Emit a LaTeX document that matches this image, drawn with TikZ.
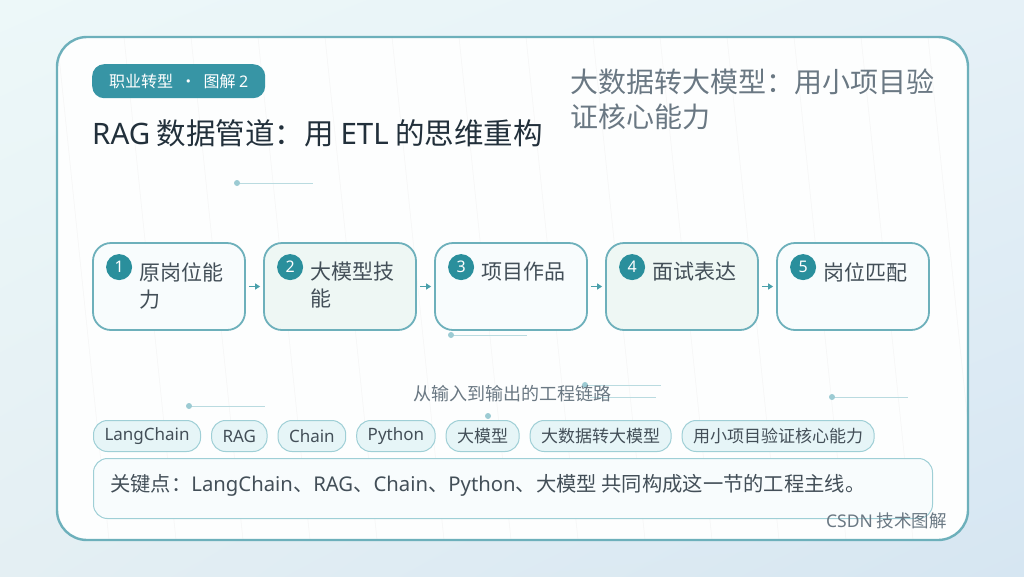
\documentclass[tikz,border=0pt]{standalone}
\usepackage{fontspec}
\setmainfont{Noto Sans CJK SC}
\newfontfamily\latfont{Noto Sans}
\newcommand{\lat}[1]{{\latfont #1}}
\usetikzlibrary{arrows.meta,positioning,shadings}

\definecolor{tealdark}{HTML}{2A8F9C}
\definecolor{tealtag}{HTML}{3795A5}
\definecolor{tealline}{HTML}{6DB0BB}
\definecolor{chipfill}{HTML}{E6F5F7}
\definecolor{chipline}{HTML}{9FCFD6}
\definecolor{inkdark}{HTML}{22303B}
\definecolor{inkgray}{HTML}{6A7883}
\definecolor{boxa}{HTML}{F8FCFD}
\definecolor{boxb}{HTML}{EEF7F4}
\definecolor{decor}{HTML}{9CCBD3}
\definecolor{bgul}{HTML}{EDF8F9}
\definecolor{bgur}{HTML}{E6F1F7}
\definecolor{bgll}{HTML}{E4EFF3}
\definecolor{bglr}{HTML}{D6E6F2}

\tikzset{
    stepbox/.style={draw=tealline, line width=1.8pt, rounded corners=18pt,
        minimum width=152pt, minimum height=87pt, inner sep=0pt},
    numdot/.style={circle, fill=tealdark, text=white, minimum size=26pt,
        inner sep=0pt, font=\latfont\fontsize{16}{16}\selectfont},
    steptext/.style={anchor=north west, inner sep=0pt, align=left,
        text=inkdark!85, font=\fontsize{21}{27}\selectfont},
    chip/.style={draw=chipline, fill=chipfill, line width=1pt, rounded corners=14pt,
        minimum height=31pt, inner xsep=11pt, text=inkdark!85,
        font=\fontsize{17}{17}\selectfont},
    flow/.style={-{Triangle[length=5pt,width=6pt]}, tealdark!85, line width=1.8pt},
    decorline/.style={decor!70, line width=0.6pt}
}

\begin{document}
\begin{tikzpicture}[x=1pt, y=-1pt]
    \useasboundingbox (0,0) rectangle (1024,576);

    % Background
    \shade[upper left=bgul, upper right=bgur, lower left=bgll, lower right=bglr]
        (0,0) rectangle (1024,576);

    % Card
    \fill[white!70!boxa, rounded corners=30pt] (57,37) rectangle (968,540);
    \begin{scope}
        \clip[rounded corners=30pt] (57,37) rectangle (968,540);
        \foreach \x in {-10,57,...,1000} {
            \draw[gray!8, line width=0.5pt] (\x,37) -- (\x+52,540);
        }
    \end{scope}
    \draw[tealline, line width=2.4pt, rounded corners=30pt] (57,37) rectangle (968,540);

    % Tag and titles
    \node[fill=tealtag, rounded corners=12pt, minimum width=173pt, minimum height=34pt,
          text=white, font=\fontsize{16}{16}\selectfont, anchor=north west]
        (tag) at (92,64) {职业转型 \ · \ 图解 \lat{2}};
    \node[anchor=base west, inner sep=0pt, text=inkdark, font=\fontsize{29.5}{29.5}\selectfont]
        (title) at (92,144) {\lat{RAG} 数据管道：用 \lat{ETL} 的思维重构};
    \node[anchor=north west, inner sep=0pt, align=left, text=inkgray,
          font=\fontsize{28}{35}\selectfont]
        (subtitle) at (570,69) {大数据转大模型：用小项目验\\证核心能力};

    % Decorative dots
    \foreach \dx/\dy in {237/183, 451/335, 189/406, 585/385, 832/397} {
        \draw[decorline] (\dx,\dy) -- (\dx+76,\dy);
        \fill[decor] (\dx,\dy) circle (3pt);
    }
    \draw[decorline] (590,397) -- (656,397);
    \fill[decor] (488,416) circle (3pt);

    % Steps
    \foreach \i/\cx/\col/\txt in {1/169/boxa/{原岗位能\\力}, 2/340/boxb/{大模型技\\能},
                                  3/511/boxa/{项目作品}, 4/682/boxb/{面试表达},
                                  5/853/boxa/{岗位匹配}} {
        \node[stepbox, fill=\col] (s\i) at (\cx,286.5) {};
        \node[numdot] (n\i) at ([xshift=27pt,yshift=-25pt]s\i.north west) {\i};
        \node[steptext] (t\i) at ([xshift=47pt,yshift=-20pt]s\i.north west) {\txt};
    }
    \foreach \i/\j in {1/2, 2/3, 3/4, 4/5} {
        \draw[flow] ([xshift=3pt]s\i.east) -- ([xshift=-3pt]s\j.west);
    }

    % Caption
    \node[text=inkgray, font=\fontsize{18}{18}\selectfont] (caption) at (512,394)
        {从输入到输出的工程链路};

    % Chips
    \node[chip, anchor=west] (c1) at (93,436) {\lat{LangChain}};
    \node[chip, right=10pt of c1] (c2) {\lat{RAG}};
    \node[chip, right=10pt of c2] (c3) {\lat{Chain}};
    \node[chip, right=10pt of c3] (c4) {\lat{Python}};
    \node[chip, right=10pt of c4] (c5) {大模型};
    \node[chip, right=10pt of c5] (c6) {大数据转大模型};
    \node[chip, right=10pt of c6] (c7) {用小项目验证核心能力};

    % Key point
    \node[draw=chipline, fill=boxa, line width=1pt, rounded corners=14pt,
          minimum width=839pt, minimum height=60pt, anchor=north west]
        (key) at (93,458) {};
    \node[anchor=west, inner sep=0pt, text=inkdark!85, font=\fontsize{20.3}{20.3}\selectfont]
        (keytext) at ([xshift=17pt,yshift=3pt]key.west)
        {关键点：\lat{LangChain}、\lat{RAG}、\lat{Chain}、\lat{Python}、大模型 共同构成这一节的工程主线。};

    % Footer
    \node[anchor=base east, inner sep=0pt, text=inkgray, font=\fontsize{17.5}{17.5}\selectfont]
        (footer) at (947,527) {\lat{CSDN} 技术图解};
\end{tikzpicture}
\end{document}
